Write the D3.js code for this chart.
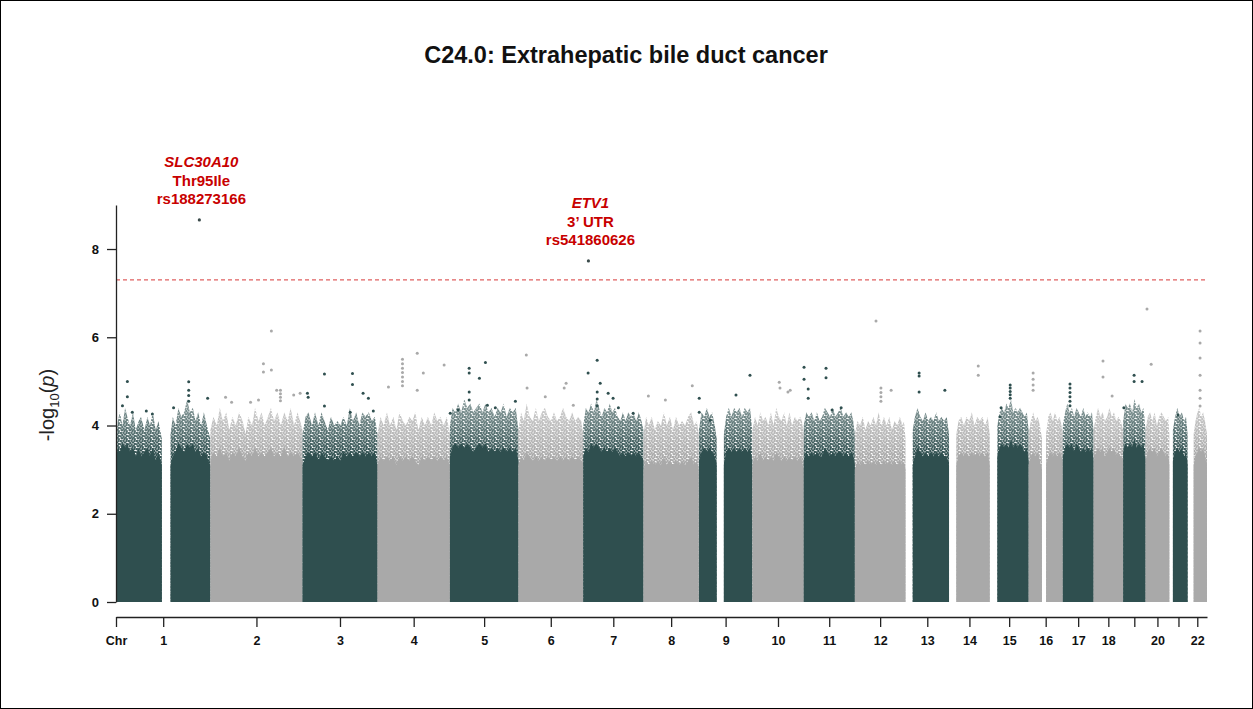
<!DOCTYPE html>
<html>
<head>
<meta charset="utf-8">
<script src="https://cdn.jsdelivr.net/npm/d3@7"></script>
<style>
  body { margin: 0; background: #fff; }
  svg { display: block; }
  text { font-family: "Liberation Sans", Arial, Helvetica, sans-serif; }
</style>
</head>
<body>
<svg id="chart" width="1253" height="709"></svg>
<script>
// ---- Data -------------------------------------------------------------
const chromosomes = ["1","2","3","4","5","6","7","8","9","10","11","12",
                     "13","14","15","16","17","18","19","20","21","22"];

// Chromosome lengths (Mb, GRCh37)
const chromLengthMb = [249.25, 243.2, 198.0, 191.15, 180.9, 171.1, 159.1, 146.4,
                       141.2, 135.5, 135.0, 133.85, 115.2, 107.35, 102.5, 90.35,
                       81.2, 78.1, 59.1, 63.0, 48.1, 51.3];

// Axis labels under each chromosome (crowded ones are left blank)
const chromTickLabels = ["1","2","3","4","5","6","7","8","9","10","11","12",
                         "13","14","15","16","17","18","","20","","22"];

// Bulk of the association cloud per chromosome: covered stretches,
// each a list of [position Mb, solid-core level, upper fringe level] in -log10(p)
const densityProfiles = [
  [[[0.7,3.3,3.8],[5,3.5,4.1],[10,3.4,4.3],[17,3.6,4.0],[24,3.5,4.4],[30,3.6,4.2],[37,3.4,4.0],[45,3.5,4.3],[52,3.3,3.9],[60,3.5,4.1],[66,3.3,4.2],[75,3.4,3.9],[83,3.5,4.2],[90,3.3,4.0],[97,3.5,4.3],[105,3.2,3.9],[112,3.4,4.1],[121,3.1,3.7]],
   [[144,3.1,3.8],[150,3.3,4.2],[157,3.4,4.0],[165,3.6,4.4],[172,3.5,4.2],[180,3.4,4.3],[188,3.6,4.6],[195,3.5,4.3],[203,3.6,4.4],[210,3.4,4.1],[217,3.5,4.3],[225,3.3,4.0],[232,3.4,4.3],[240,3.3,4.0],[249,3.1,3.7]]],
  [[[0.1,3.2,3.9],[8,3.4,4.2],[17,3.3,4.0],[25,3.5,4.4],[33,3.3,4.1],[42,3.4,4.3],[50,3.2,3.9],[58,3.4,4.2],[67,3.3,4.0],[76,3.5,4.3],[85,3.3,4.1],[93,3.2,3.8],[100,3.4,4.2],[110,3.3,4.0],[118,3.5,4.4],[127,3.3,4.1],[135,3.4,4.3],[143,3.3,4.0],[152,3.4,4.2],[160,3.5,4.4],[168,3.3,4.1],[177,3.4,4.3],[186,3.3,4.0],[195,3.5,4.3],[204,3.3,4.1],[212,3.4,4.4],[221,3.3,4.0],[230,3.4,4.3],[237,3.3,4.1],[243,3.2,3.9]]],
  [[[0.1,3.1,3.8],[8,3.3,4.2],[16,3.4,4.3],[25,3.3,4.0],[33,3.4,4.3],[42,3.2,4.0],[50,3.4,4.3],[58,3.3,4.1],[67,3.2,3.9],[75,3.3,4.2],[84,3.2,4.0],[92,3.3,4.1],[100,3.2,4.0],[108,3.4,4.2],[117,3.3,4.0],[125,3.4,4.4],[133,3.3,4.1],[142,3.4,4.3],[150,3.3,4.0],[158,3.4,4.3],[166,3.3,4.2],[175,3.4,4.3],[183,3.3,4.1],[191,3.4,4.2],[198,3.1,3.8]]],
  [[[0.1,3.1,3.8],[8,3.3,4.2],[16,3.2,4.0],[25,3.3,4.3],[33,3.2,4.0],[42,3.3,4.2],[50,3.1,3.9],[58,3.3,4.3],[67,3.2,4.1],[75,3.3,4.0],[84,3.2,4.2],[92,3.3,4.1],[100,3.2,4.3],[108,3.1,3.9],[117,3.3,4.2],[125,3.2,4.0],[133,3.3,4.2],[142,3.2,4.0],[150,3.3,4.3],[158,3.2,4.1],[166,3.3,4.2],[175,3.2,4.0],[183,3.3,4.2],[191,3.1,3.8]]],
  [[[0.1,3.3,4.0],[7,3.5,4.4],[14,3.6,4.3],[22,3.5,4.5],[30,3.6,4.3],[38,3.5,4.6],[46,3.6,4.4],[54,3.5,4.5],[62,3.4,4.3],[70,3.5,4.4],[78,3.6,4.5],[86,3.5,4.3],[94,3.6,4.5],[102,3.4,4.3],[110,3.5,4.4],[118,3.4,4.2],[126,3.5,4.4],[134,3.4,4.3],[142,3.5,4.5],[150,3.4,4.2],[158,3.5,4.4],[166,3.4,4.3],[174,3.5,4.4],[181,3.2,3.9]]],
  [[[0.1,3.1,3.9],[7,3.3,4.3],[14,3.2,4.1],[22,3.4,4.5],[30,3.3,4.2],[38,3.2,4.1],[46,3.3,4.4],[54,3.2,4.1],[62,3.3,4.3],[70,3.2,4.4],[78,3.3,4.2],[86,3.2,4.1],[94,3.3,4.3],[102,3.2,4.1],[110,3.3,4.2],[118,3.2,4.4],[126,3.3,4.2],[134,3.2,4.1],[142,3.3,4.3],[150,3.2,4.1],[158,3.3,4.2],[166,3.2,4.1],[171,3.1,3.8]]],
  [[[0.1,3.3,4.0],[7,3.5,4.4],[14,3.4,4.3],[21,3.6,4.5],[28,3.5,4.3],[35,3.6,4.6],[42,3.5,4.4],[49,3.4,4.2],[56,3.5,4.4],[63,3.4,4.3],[70,3.5,4.5],[77,3.4,4.3],[84,3.5,4.4],[91,3.4,4.2],[98,3.3,4.1],[105,3.4,4.3],[112,3.3,4.1],[119,3.4,4.3],[126,3.3,4.2],[133,3.4,4.3],[140,3.3,4.1],[147,3.4,4.3],[154,3.3,4.1],[159,3.2,3.9]]],
  [[[0.2,3.0,3.8],[7,3.2,4.2],[14,3.1,4.0],[22,3.2,4.2],[30,3.1,3.9],[38,3.2,4.1],[46,3.1,4.0],[54,3.3,4.3],[62,3.1,4.0],[70,3.2,4.2],[78,3.1,3.9],[86,3.2,4.2],[94,3.1,4.0],[102,3.2,4.1],[110,3.1,4.0],[118,3.2,4.2],[126,3.3,4.3],[134,3.1,4.0],[141,3.2,4.1],[146,3.0,3.8]]],
  [[[0.2,3.2,3.9],[7,3.4,4.3],[14,3.5,4.2],[21,3.4,4.4],[28,3.5,4.2],[35,3.4,4.3],[42,3.3,4.0],[47,3.1,3.7]],
   [[66,3.1,3.8],[72,3.4,4.2],[79,3.5,4.4],[86,3.4,4.2],[93,3.5,4.4],[100,3.4,4.3],[107,3.5,4.4],[114,3.4,4.2],[121,3.5,4.4],[128,3.4,4.3],[135,3.5,4.4],[141,3.2,3.9]]],
  [[[0.1,3.1,3.9],[7,3.3,4.2],[14,3.2,4.0],[21,3.4,4.3],[28,3.2,4.1],[35,3.3,4.2],[42,3.2,4.0],[49,3.3,4.3],[56,3.2,4.0],[63,3.4,4.4],[70,3.3,4.2],[77,3.2,4.1],[84,3.3,4.3],[91,3.2,4.0],[98,3.3,4.3],[105,3.2,4.0],[112,3.3,4.2],[119,3.2,4.1],[126,3.3,4.2],[131,3.2,4.1],[135.5,3.0,3.8]]],
  [[[0.2,3.2,4.0],[7,3.4,4.3],[14,3.3,4.2],[21,3.4,4.3],[28,3.3,4.1],[35,3.4,4.3],[42,3.3,4.1],[49,3.3,4.2],[56,3.5,4.4],[63,3.4,4.3],[70,3.3,4.2],[77,3.4,4.4],[84,3.3,4.2],[91,3.4,4.3],[98,3.4,4.4],[105,3.3,4.2],[112,3.4,4.3],[119,3.3,4.2],[126,3.4,4.3],[131,3.3,4.1],[135,3.1,3.8]]],
  [[[0.1,3.0,3.8],[7,3.2,4.1],[14,3.1,4.0],[21,3.2,4.2],[28,3.1,3.9],[35,3.2,4.1],[42,3.1,4.0],[49,3.2,4.2],[56,3.1,4.0],[63,3.2,4.3],[70,3.1,4.0],[77,3.2,4.2],[84,3.1,4.0],[91,3.2,4.2],[98,3.1,3.9],[105,3.2,4.1],[112,3.1,4.0],[119,3.2,4.2],[126,3.1,4.0],[130,3.2,4.1],[133.8,3.0,3.7]]],
  [[[19.1,3.1,3.9],[25,3.3,4.2],[32,3.5,4.4],[39,3.4,4.2],[46,3.3,4.1],[53,3.4,4.3],[60,3.3,4.1],[67,3.4,4.2],[74,3.3,4.1],[81,3.4,4.3],[88,3.3,4.1],[95,3.4,4.2],[102,3.3,4.1],[109,3.3,4.2],[115,3.1,3.8]]],
  [[[19.1,3.1,3.8],[25,3.3,4.1],[32,3.4,4.2],[39,3.3,4.0],[46,3.4,4.2],[53,3.3,4.1],[60,3.4,4.3],[67,3.3,4.0],[74,3.4,4.2],[81,3.3,4.1],[88,3.4,4.2],[95,3.3,4.0],[102,3.4,4.2],[107.3,3.1,3.8]]],
  [[[20.1,3.3,4.0],[26,3.5,4.3],[32,3.6,4.4],[38,3.5,4.3],[44,3.6,4.5],[50,3.5,4.4],[56,3.7,4.6],[62,3.5,4.3],[68,3.6,4.4],[74,3.5,4.3],[80,3.6,4.4],[86,3.5,4.3],[92,3.4,4.2],[98,3.5,4.3],[102.5,3.2,3.9]]],
  [[[0.1,3.1,3.8],[6,3.3,4.1],[12,3.4,4.3],[18,3.3,4.1],[24,3.4,4.2],[30,3.2,4.0],[35.3,3.0,3.7]],
   [[46.4,3.1,3.8],[52,3.3,4.2],[58,3.4,4.3],[64,3.3,4.1],[70,3.4,4.3],[76,3.3,4.1],[82,3.4,4.2],[87,3.3,4.0],[90.3,3.1,3.8]]],
  [[[0.1,3.3,4.0],[6,3.5,4.3],[12,3.6,4.5],[18,3.5,4.3],[24,3.6,4.4],[30,3.4,4.2],[36,3.6,4.4],[42,3.5,4.3],[48,3.4,4.2],[54,3.5,4.4],[60,3.4,4.2],[66,3.5,4.3],[72,3.4,4.2],[77,3.5,4.3],[81.2,3.2,3.9]]],
  [[[0.1,3.2,3.9],[6,3.4,4.2],[12,3.5,4.4],[18,3.4,4.2],[24,3.5,4.3],[30,3.3,4.1],[36,3.4,4.2],[42,3.5,4.4],[48,3.4,4.2],[54,3.5,4.3],[60,3.3,4.1],[66,3.4,4.2],[72,3.3,4.1],[78,3.2,3.9]]],
  [[[0.2,3.4,4.1],[6,3.6,4.5],[12,3.5,4.4],[18,3.6,4.5],[24,3.5,4.3],[30,3.7,4.6],[36,3.5,4.4],[42,3.6,4.5],[48,3.5,4.3],[54,3.6,4.4],[59.1,3.2,3.9]]],
  [[[0.1,3.2,3.9],[6,3.4,4.2],[12,3.5,4.3],[18,3.4,4.1],[24,3.5,4.3],[30,3.3,4.0],[36,3.4,4.2],[42,3.5,4.3],[48,3.4,4.2],[54,3.3,4.1],[60,3.4,4.2],[62.9,3.1,3.8]]],
  [[[9.4,3.2,3.9],[15,3.4,4.2],[21,3.5,4.4],[27,3.4,4.2],[33,3.5,4.3],[39,3.3,4.1],[44,3.4,4.2],[48.1,3.1,3.8]]],
  [[[16.1,3.1,3.8],[21,3.3,4.1],[26,3.4,4.3],[31,3.5,4.4],[36,3.4,4.2],[41,3.5,4.3],[46,3.3,4.1],[51.2,3.1,3.8]]]
];

// Individual variants standing above the cloud: [chromosome, position Mb, -log10(p)]
const strongHits = [
  ["1",17,4.45],["1",30,5.0],["1",30,4.65],["1",43,4.3],["1",80,4.33],["1",96,4.26],
  ["1",152,4.4],["1",192,4.99],["1",192,4.8],["1",192,4.68],["1",192,4.55],["1",242,4.62],
  ["2",40,4.64],["2",56,4.53],["2",106,4.53],["2",127,4.58],["2",140,5.4],["2",140,5.21],
  ["2",161,6.14],["2",161,5.26],["2",175,4.8],["2",185,4.8],["2",185,4.72],["2",185,4.64],
  ["2",185,4.56],["2",220,4.69],["2",237,4.73],
  ["3",13,4.73],["3",15,4.64],["3",58,5.17],["3",58,4.44],["3",126,4.3],["3",132,5.18],
  ["3",132,4.93],["3",160,4.73],["3",174,4.62],["3",187,4.33],
  ["4",29,4.87],["4",66,5.5],["4",66,5.4],["4",66,5.3],["4",66,5.2],["4",66,5.1],["4",66,5.0],
  ["4",66,4.9],["4",105,5.64],["4",105,4.8],["4",121,5.19],["4",176,5.37],
  ["5",1,4.28],["5",22,4.35],["5",51,5.3],["5",51,5.19],["5",51,4.76],["5",51,4.58],
  ["5",78,5.07],["5",94,5.43],["5",99,4.46],["5",120,4.4],["5",173,4.55],
  ["6",21,5.6],["6",23,4.85],["6",71,4.65],["6",121,4.85],["6",126,4.96],["6",145,4.46],
  ["7",13,5.19],["7",37,5.48],["7",37,4.76],["7",37,4.6],["7",37,4.45],["7",45,4.96],
  ["7",66,4.73],["7",79,4.62],["7",93,4.4],["7",132,4.28],
  ["8",13,4.67],["8",58,4.58],["8",129,4.9],
  ["9",1,4.62],["9",1,4.3],["9",30,4.12],["9",98,4.69],["9",135,5.14],
  ["10",71,4.98],["10",73,4.85],["10",94,4.76],["10",100,4.8],
  ["11",1,5.32],["11",1,5.05],["11",12,4.83],["11",12,4.62],["11",59,5.3],["11",59,5.08],
  ["11",75,4.35],["11",99,4.4],
  ["12",56,6.37],["12",69,4.85],["12",69,4.75],["12",69,4.65],["12",69,4.55],["12",96,4.8],
  ["13",36,5.19],["13",36,5.12],["13",36,4.76],["13",104,4.8],
  ["14",77,5.35],["14",77,5.14],
  ["15",27,4.2],["15",30,4.4],["15",54,4.92],["15",54,4.85],["15",54,4.77],["15",54,4.7],["15",54,4.62],
  ["16",12,5.19],["16",12,5.05],["16",12,4.92],["16",12,4.8],
  ["17",19,4.94],["17",19,4.85],["17",19,4.75],["17",19,4.65],["17",19,4.55],["17",19,4.45],
  ["18",25,5.46],["18",25,5.1],["18",49,4.67],
  ["19",2,4.4],["19",29,5.14],["19",29,5.0],["19",50,5.0],
  ["20",4,6.64],["20",15,5.39],
  ["21",23,4.24],
  ["22",33,6.14],["22",33,5.87],["22",33,5.53],["22",33,5.14],["22",33,4.8],["22",33,4.62],["22",33,4.44]
];

// Genome-wide significant variants with their annotation
const leadChrom = ["1", "7"];
const leadPosMb = [220.1, 13.9];
const leadLogP  = [8.66, 7.73];
const leadGene  = ["SLC30A10", "ETV1"];
const leadEffect = ["Thr95Ile", "3\u2019 UTR"];
const leadRsid  = ["rs188273166", "rs541860626"];

const yTicks = [0, 2, 4, 6, 8];
const genomeWideThreshold = -Math.log10(5e-8);
const chartTitle = "C24.0: Extrahepatic bile duct cancer";

// ---- Layout -----------------------------------------------------------
const W = 1253, H = 709;
const colors = ["#2f4f4f", "#a9a9a9"];
const svg = d3.select("#chart");

const chromOffset = d3.cumsum([0, ...chromLengthMb]).slice(0, chromosomes.length);
const genomeMb = d3.sum(chromLengthMb);
const idx = c => chromosomes.indexOf(c);

const x = d3.scaleLinear().domain([0, genomeMb]).range([116, 1207]);
const y = d3.scaleLinear().domain([0, 9]).range([602, 204.9]);
const gx = (c, mb) => x(chromOffset[idx(c)] + mb);

// frame
svg.append("rect").attr("x", 0.5).attr("y", 0.5).attr("width", W - 1).attr("height", H - 1)
  .attr("fill", "#fff").attr("stroke", "#000").attr("stroke-width", 1);

// ---- Texture definitions for the dense point cloud --------------------
const defs = svg.append("defs");
const dotSpots = [[0.9,1.0],[3.5,0.7],[2.3,2.9],[5.0,2.4],[0.6,4.4],[3.6,4.8],[5.6,5.6],[1.9,6.3],[4.4,7.0],[6.6,0.9],[6.9,3.9],[6.8,7.1]];
colors.forEach((c, i) => {
  const p = defs.append("pattern").attr("id", "dots" + i)
    .attr("patternUnits", "userSpaceOnUse").attr("width", 8).attr("height", 8);
  p.selectAll("circle").data(dotSpots).join("circle")
    .attr("cx", d => d[0]).attr("cy", d => d[1]).attr("r", 1.2).attr("fill", c);
});
const fade = defs.append("linearGradient").attr("id", "fadeUp")
  .attr("gradientUnits", "userSpaceOnUse")
  .attr("x1", 0).attr("x2", 0).attr("y1", y(3.3)).attr("y2", y(4.6));
fade.append("stop").attr("offset", 0).attr("stop-color", "#fff").attr("stop-opacity", 1);
fade.append("stop").attr("offset", 1).attr("stop-color", "#fff").attr("stop-opacity", 0.55);
defs.append("mask").attr("id", "fringeMask")
  .attr("maskUnits", "userSpaceOnUse").attr("x", 0).attr("y", 0).attr("width", W).attr("height", H)
  .append("rect").attr("x", 0).attr("y", 0).attr("width", W).attr("height", H).attr("fill", "url(#fadeUp)");

// ---- Point cloud -------------------------------------------------------
const fringeG = svg.append("g").attr("mask", "url(#fringeMask)");
const coreG = svg.append("g");

densityProfiles.forEach((stretches, i) => {
  const c = chromosomes[i];
  stretches.forEach(st => {
    const fringe = d3.area().x(d => gx(c, d[0])).y0(y(0)).y1(d => y(d[2]));
    const core = d3.area().x(d => gx(c, d[0])).y0(y(0)).y1(d => y(d[1]));
    fringeG.append("path").attr("d", fringe(st)).attr("fill", `url(#dots${i % 2})`);
    coreG.append("path").attr("d", core(st)).attr("fill", colors[i % 2]);
  });
});

// threshold line
svg.append("line")
  .attr("x1", x(0)).attr("x2", x(genomeMb))
  .attr("y1", y(genomeWideThreshold)).attr("y2", y(genomeWideThreshold))
  .attr("stroke", "#e06060").attr("stroke-width", 1.3).attr("stroke-dasharray", "4,3");

svg.append("g").selectAll("circle").data(strongHits).join("circle")
  .attr("cx", d => gx(d[0], d[1])).attr("cy", d => y(d[2])).attr("r", 1.5)
  .attr("fill", d => colors[idx(d[0]) % 2]);

// lead variants with their labels
const leads = leadChrom.map((c, i) => ({
  c, mb: leadPosMb[i], v: leadLogP[i], gene: leadGene[i], eff: leadEffect[i], rs: leadRsid[i]
}));
svg.append("g").selectAll("circle").data(leads).join("circle")
  .attr("cx", d => gx(d.c, d.mb)).attr("cy", d => y(d.v)).attr("r", 1.6)
  .attr("fill", "#3a4a4a");

const lab = svg.append("g").selectAll("text").data(leads).join("text")
  .attr("text-anchor", "middle").attr("fill", "#c80000")
  .attr("font-size", 15).attr("font-weight", "bold");
lab.append("tspan").attr("x", d => gx(d.c, d.mb) + 2).attr("y", d => y(d.v) - 53)
  .attr("font-style", "italic").text(d => d.gene);
lab.append("tspan").attr("x", d => gx(d.c, d.mb) + 2).attr("y", d => y(d.v) - 34).text(d => d.eff);
lab.append("tspan").attr("x", d => gx(d.c, d.mb) + 2).attr("y", d => y(d.v) - 15.5).text(d => d.rs);

// ---- Axes --------------------------------------------------------------
const yAxis = svg.append("g").attr("transform", `translate(${x(0)},0)`)
  .call(d3.axisLeft(y).tickValues(yTicks).tickSize(9).tickSizeOuter(0).tickPadding(8));
yAxis.selectAll("text").attr("font-size", 13).attr("font-weight", "bold").attr("fill", "#111");

const chromMid = chromosomes.map((c, i) => chromOffset[i] + chromLengthMb[i] / 2);
const xTickVals = [0, ...chromMid];
const xTickText = ["Chr", ...chromTickLabels];
const xAxis = svg.append("g").attr("transform", "translate(0,617)")
  .call(d3.axisBottom(x).tickValues(xTickVals).tickSize(10).tickSizeOuter(0).tickPadding(9)
    .tickFormat((d, i) => xTickText[i]));
xAxis.selectAll("text").attr("font-size", 12.5).attr("font-weight", "bold").attr("fill", "#111");

svg.selectAll(".domain, .tick line").attr("stroke", "#222").attr("stroke-width", 1.3);
svg.selectAll(".tick text").attr("font-family", "'Liberation Sans', Arial, sans-serif");

// y-axis title: -log10(p)
const yt = svg.append("text")
  .attr("transform", "translate(54,405) rotate(-90)")
  .attr("text-anchor", "middle").attr("font-size", 20).attr("fill", "#222");
yt.append("tspan").text("-log");
yt.append("tspan").attr("font-size", 13).attr("dy", 5).text("10");
yt.append("tspan").attr("dy", -5).text("(");
yt.append("tspan").attr("font-style", "italic").text("p");
yt.append("tspan").text(")");

// chart title
svg.append("text").attr("x", 626).attr("y", 63).attr("text-anchor", "middle")
  .attr("font-size", 23.5).attr("font-weight", "bold").attr("fill", "#111").text(chartTitle);
</script>
</body>
</html>
